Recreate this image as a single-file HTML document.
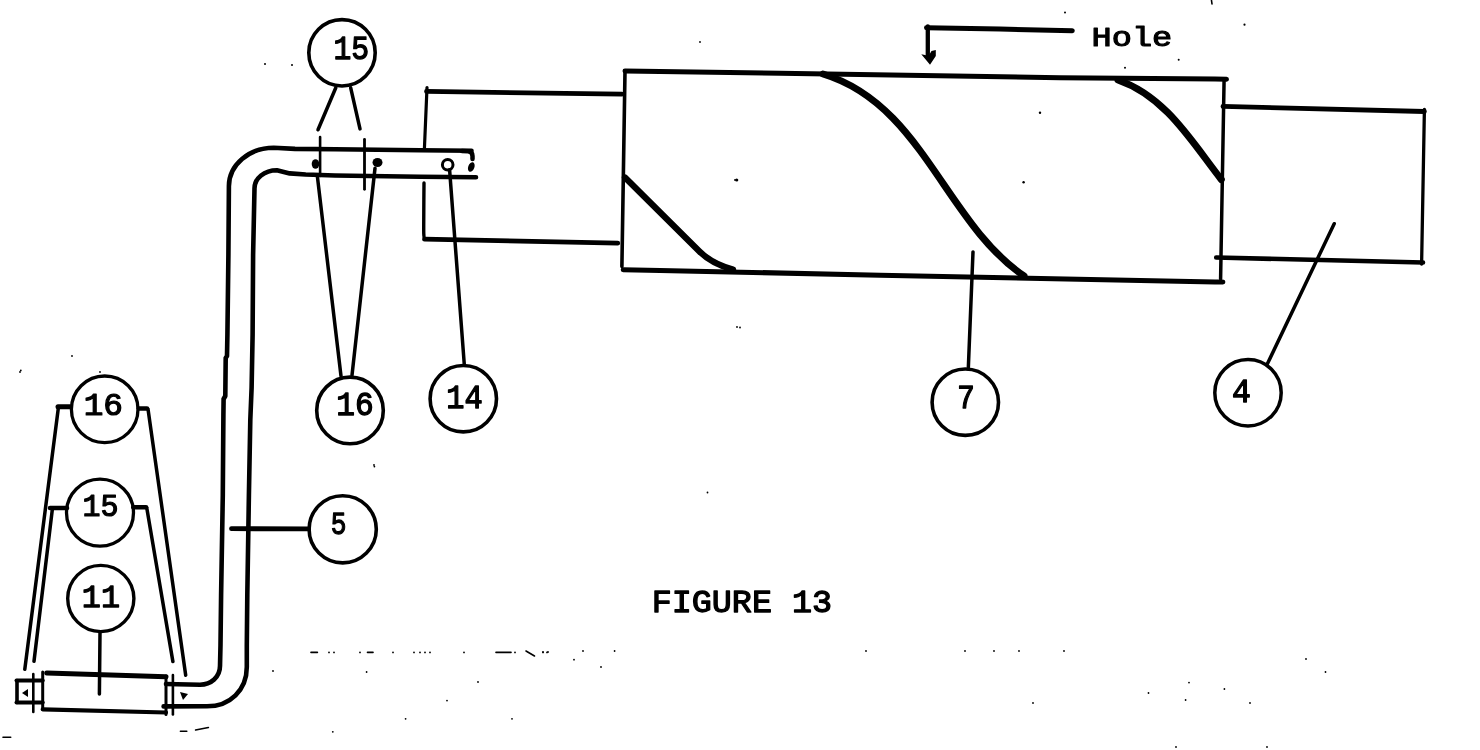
<!DOCTYPE html>
<html><head><meta charset="utf-8"><style>
html,body{margin:0;padding:0;background:#fff;width:1480px;height:750px;overflow:hidden}
svg{display:block;filter:grayscale(1)}
text{font-family:"Liberation Mono",monospace;font-weight:normal;font-size:100px;fill:#000;stroke:#000;stroke-width:4;stroke-linejoin:round}
</style></head><body>
<svg width="1480" height="750" viewBox="0 0 1480 750">
<g fill="none" stroke="#000" stroke-linecap="round" stroke-linejoin="round">
<circle cx="342" cy="52.8" r="33.2" stroke-width="3.6"/>
<circle cx="350" cy="410.4" r="33.3" stroke-width="3.6"/>
<circle cx="463.3" cy="398.7" r="33.2" stroke-width="3.6"/>
<circle cx="965.3" cy="402.2" r="33.2" stroke-width="3.6"/>
<circle cx="1248" cy="392.7" r="33.2" stroke-width="3.5"/>
<circle cx="342.7" cy="529.3" r="33.6" stroke-width="3.6"/>
<circle cx="104.7" cy="409.3" r="33.3" stroke-width="3.3"/>
<circle cx="100" cy="512.7" r="33.5" stroke-width="3.3"/>
<circle cx="100.8" cy="598.5" r="33.1" stroke-width="3.4"/>
<path d="M335.8 87.8 L318.0 129.8" stroke-width="3.5"/>
<path d="M350.7 87.8 L360.0 128.9" stroke-width="3.5"/>
<path d="M317.4 176.6 L341.0 376.0" stroke-width="3.5"/>
<path d="M375.0 168.3 L352.0 375.2" stroke-width="3.5"/>
<path d="M449.6 169.8 L464.3 364.7" stroke-width="3.5"/>
<path d="M973.0 251.9 L968.3 368.7" stroke-width="3.5"/>
<path d="M1334.2 223.7 L1267.3 364.0" stroke-width="3.5"/>
<path d="M58.0 406.8 L70.0 406.8" stroke-width="5"/>
<path d="M58.5 406.7 L24.8 669.3" stroke-width="3.5"/>
<path d="M138.7 408.5 L147.0 408.5" stroke-width="4.5"/>
<path d="M148.0 409.0 L185.7 675.2" stroke-width="3.5"/>
<path d="M50.0 508.0 L67.0 508.0" stroke-width="4.5"/>
<path d="M52.5 508.0 L34.0 661.3" stroke-width="3.5"/>
<path d="M133.3 507.2 L146.0 507.2" stroke-width="4.5"/>
<path d="M146.7 507.5 L172.9 661.6" stroke-width="3.5"/>
<path d="M100.0 632.4 L99.4 694.0" stroke-width="3.5"/>
<path d="M320.1 137.1 L320.1 176.0" stroke-width="2.6"/>
<path d="M364.5 139.3 L364.5 189.3" stroke-width="2.8"/>
<path d="M231.5 528.7 L308.7 528.9" stroke-width="4.8"/>
<path d="M471.5 150.8 L420 150.3 L335 149.2 L295 148.9 L273.7 147.8 C249 147.8 228.9 165 228.9 186.2 L228.4 255 L227.4 335 L227 356 L225.7 358 L225.3 396 L223.6 399 L223.4 415 L222.8 495 L221.1 595 L220.5 645 L220.0 666 C220.0 677 211 684.7 200 684.7 L166 684" stroke-width="4.6"/>
<path d="M462 151 L468 151.2 Q472.5 151.5 472.5 156 L472.5 159" stroke-width="4.5"/>
<path d="M476 177.3 L420 176.8 L335 175.5 L305.7 174.5 L289.7 173.4 L276.9 170.2 C264.5 170.2 254.5 178.3 254.5 188.3 L253.1 255 L252.6 335 L251.6 388 L250.3 420 L248.9 495 L247.3 595 L246.8 645 L246.8 667 C246.8 690 230 706.3 207 706.3 L163.6 706.4" stroke-width="4.6"/>
<circle cx="447.7" cy="164.7" r="5.3" stroke-width="3"/>
<path d="M426.5 91.4 L622.0 94.2" stroke-width="4.7"/>
<path d="M427.0 87.5 L424.4 149.0" stroke-width="3.2"/>
<path d="M424.0 183.0 C424.0 187.5 423.8 201.5 423.8 210.0 C423.8 218.5 423.6 229.2 423.8 234.0 C424.0 238.8 424.0 237.9 425.0 238.8 C426.0 239.7 429.2 239.2 430.0 239.3" stroke-width="3.4"/>
<path d="M424.5 239.2 L617.7 243.1" stroke-width="4.8"/>
<path d="M625.0 71.0 L780.0 73.2 L1060.0 77.8 L1215.0 79.0 L1226.5 79.2" stroke-width="5"/>
<path d="M1224.1 79.0 L1220.6 278.7" stroke-width="3.5"/>
<path d="M625.0 71.0 L621.9 266.4" stroke-width="3.6"/>
<path d="M623.2 269.8 L660.0 270.4 L880.0 275.2 L1215.0 281.9 L1222.9 282.0" stroke-width="5"/>
<path d="M610.0 243.3 L617.0 243.3" stroke-width="3"/>
<path d="M625 177.5 L699 251 Q712 264 733 269.5" stroke-width="6.3"/>
<path d="M823.0 74.0 C922.4 104.1 944.6 221.6 1024.0 276.0" stroke-width="7"/>
<path d="M1118.0 80.0 C1165.9 96.6 1191.8 141.9 1221.3 179.5" stroke-width="7"/>
<path d="M1223.0 106.4 L1424.4 111.5" stroke-width="4.8"/>
<path d="M1424.4 109.5 L1421.6 264.0" stroke-width="3.3"/>
<path d="M1216.2 257.5 L1423.0 262.5" stroke-width="4.6"/>
<path d="M46.7 672.9 L166.0 676.8" stroke-width="5"/>
<path d="M42.7 709.3 L166.0 712.5" stroke-width="4.2"/>
<path d="M42.7 672.0 L42.7 709.3" stroke-width="3"/>
<path d="M166.0 676.0 L166.0 714.4" stroke-width="3"/>
<path d="M16.5 680.5 L42.7 680.5" stroke-width="4"/>
<path d="M16.5 702.5 L42.7 702.5" stroke-width="4"/>
<path d="M17.0 680.5 L17.0 702.5" stroke-width="3.6"/>
<path d="M33.3 674.0 L33.3 712.0" stroke-width="2.6"/>
<path d="M172.9 675.0 L172.9 714.4" stroke-width="2.6"/>
<path d="M926.5 27.7 L1000.0 29.0 L1072.3 30.7" stroke-width="5"/>
<path d="M927.8 26.5 L927.8 57.0" stroke-width="4.3"/>
<path d="M1211.5 0.5 L1212.0 4.0" stroke-width="1.6"/>
<path d="M311.0 652.4 L317.4 652.4" stroke-width="1.6"/>
<path d="M367.5 652.4 L373.0 652.4" stroke-width="1.6"/>
<path d="M496.0 652.4 L511.0 652.4" stroke-width="1.6"/>
<path d="M526.0 651.0 L534.5 656.0" stroke-width="1.6"/>
<path d="M180.4 731.2 L186.8 731.2" stroke-width="1.6"/>
<path d="M195.6 730.0 L208.4 727.5" stroke-width="1.6"/>
<path d="M3.0 737.3 L10.7 737.3" stroke-width="1.6"/>
</g>
<g fill="#000">
<ellipse cx="315.5" cy="164" rx="3.8" ry="4.8"/>
<ellipse cx="377.5" cy="162.5" rx="5" ry="4.5"/>
<ellipse cx="471.3" cy="167" rx="3.1" ry="5" transform="rotate(20 471.3 167)"/>
<path d="M22 693 L28 689 L28 697 Z"/>
<path d="M180 692 L188 694 L183 700 Z"/>
<path d="M921.3 54.3 L930 64.7 L935.8 56 L935.8 50 L931.5 51 L928.5 56 L925 55 Z"/>
<circle cx="736.7" cy="180" r="1.6"/>
<circle cx="1023.6" cy="182.2" r="1.2"/>
<circle cx="1040" cy="112.8" r="1.2"/>
<circle cx="1065" cy="12.4" r="1"/>
<circle cx="1178.7" cy="59.7" r="1"/>
<circle cx="1125" cy="67.8" r="1"/>
<circle cx="1244.5" cy="24.7" r="1.1"/>
<circle cx="265" cy="64" r="1"/>
<circle cx="292" cy="65" r="1"/>
<circle cx="329" cy="652.4" r="0.9"/>
<circle cx="334" cy="652.4" r="0.9"/>
<circle cx="360" cy="652.4" r="0.9"/>
<circle cx="393" cy="652.4" r="0.9"/>
<circle cx="414" cy="652.4" r="0.9"/>
<circle cx="420" cy="652.4" r="0.9"/>
<circle cx="425" cy="652.4" r="0.9"/>
<circle cx="430" cy="652.4" r="0.9"/>
<circle cx="464" cy="652.4" r="0.9"/>
<circle cx="515" cy="652.4" r="0.9"/>
<circle cx="543" cy="652.4" r="0.9"/>
<circle cx="547" cy="652.4" r="0.9"/>
<circle cx="740" cy="327.5" r="0.9"/>
<circle cx="707.5" cy="492.5" r="0.9"/>
<circle cx="374" cy="465" r="0.9"/>
<circle cx="543" cy="652" r="0.9"/>
<circle cx="548" cy="652" r="0.9"/>
<circle cx="583" cy="651" r="0.9"/>
<circle cx="614.6" cy="651" r="0.9"/>
<circle cx="574" cy="659.7" r="0.9"/>
<circle cx="601" cy="667" r="0.9"/>
<circle cx="866" cy="651" r="0.9"/>
<circle cx="965" cy="651" r="0.9"/>
<circle cx="994" cy="651" r="0.9"/>
<circle cx="1019" cy="651" r="0.9"/>
<circle cx="1064" cy="651" r="0.9"/>
<circle cx="1033" cy="703" r="0.9"/>
<circle cx="1148.5" cy="693" r="0.9"/>
<circle cx="1189" cy="682.6" r="0.9"/>
<circle cx="1185.6" cy="700" r="0.9"/>
<circle cx="1224.4" cy="689" r="0.9"/>
<circle cx="1250" cy="703" r="0.9"/>
<circle cx="1306" cy="659" r="0.9"/>
<circle cx="1325.5" cy="672" r="0.9"/>
<circle cx="1176" cy="747" r="0.9"/>
<circle cx="1267" cy="747" r="0.9"/>
<circle cx="72" cy="356" r="0.9"/>
<circle cx="20" cy="372" r="0.9"/>
<circle cx="100" cy="372" r="0.9"/>
<circle cx="700" cy="42" r="0.9"/>
<circle cx="735" cy="180" r="0.9"/>
<circle cx="737" cy="327" r="0.9"/>
<circle cx="20.8" cy="370.4" r="0.9"/>
<circle cx="374.4" cy="466.6" r="0.9"/>
<circle cx="273" cy="671" r="0.9"/>
<circle cx="332.8" cy="731.8" r="0.9"/>
<circle cx="447" cy="700.6" r="0.9"/>
<circle cx="405.6" cy="718.8" r="0.9"/>
<circle cx="478" cy="682" r="0.9"/>
<circle cx="366.6" cy="672" r="0.9"/>
<circle cx="512" cy="718.8" r="0.9"/>
</g>
<text transform="translate(333.41 58.79) scale(0.2973 0.3380)">15</text>
<text transform="translate(336.24 415.00) scale(0.3118 0.3333)">16</text>
<text transform="translate(446.18 408.03) scale(0.3036 0.3343)">14</text>
<text transform="translate(957.25 408.05) scale(0.2917 0.3243)">7</text>
<text transform="translate(1232.06 402.37) scale(0.3148 0.3290)">4</text>
<text transform="translate(330.65 533.74) scale(0.2615 0.3197)">5</text>
<text transform="translate(83.66 414.57) scale(0.3273 0.3083)">16</text>
<text transform="translate(82.50 516.38) scale(0.3000 0.3070)">15</text>
<text transform="translate(81.81 606.56) scale(0.3179 0.3200)">11</text>
<text transform="translate(651.66 611.54) scale(0.3342 0.3194)">FIGURE 13</text>
<text transform="translate(1091.58 46.35) scale(0.3362 0.2846)">Hole</text>
</svg>
</body></html>
